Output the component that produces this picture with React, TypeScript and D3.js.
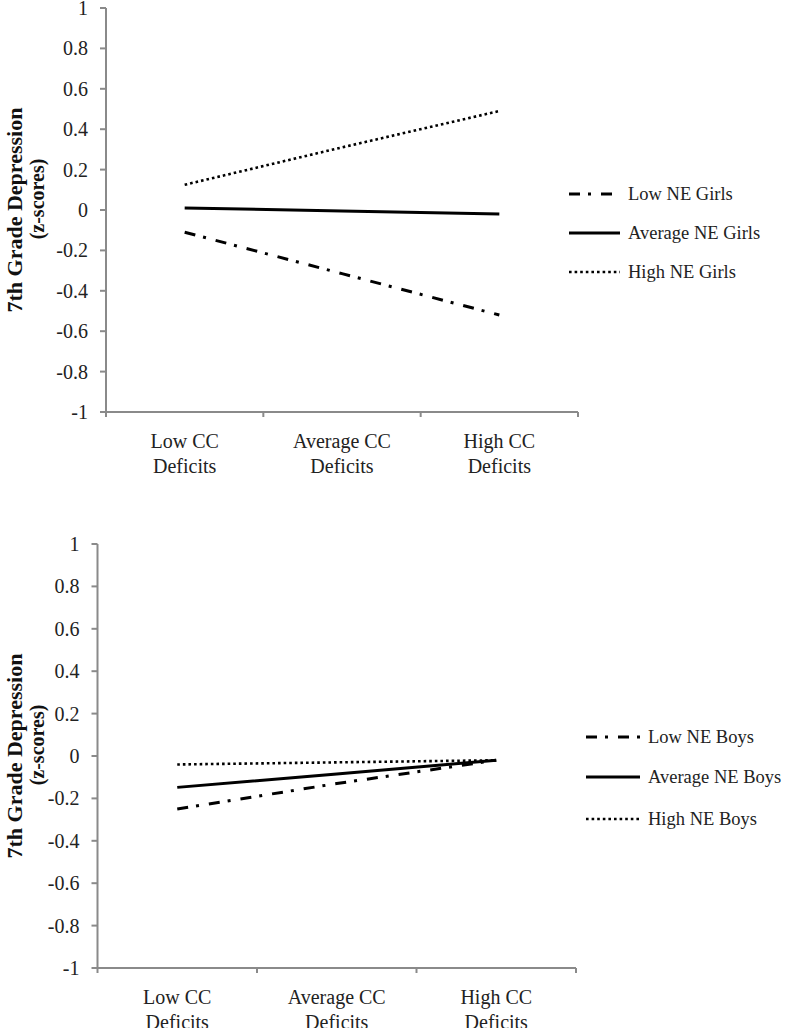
import React from "react";
import * as d3 from "d3";

const categories = ["Low CC|Deficits", "Average CC|Deficits", "High CC|Deficits"];
const yTicks = [1, 0.8, 0.6, 0.4, 0.2, 0, -0.2, -0.4, -0.6, -0.8, -1];

const girlsNames = ["Low NE Girls", "Average NE Girls", "High NE Girls"];
const girlsLow = [-0.11, -0.315, -0.52];
const girlsAvg = [0.01, -0.005, -0.02];
const girlsHigh = [0.125, 0.31, 0.49];

const boysNames = ["Low NE Boys", "Average NE Boys", "High NE Boys"];
const boysLow = [-0.25, -0.13, -0.02];
const boysAvg = [-0.148, -0.085, -0.02];
const boysHigh = [-0.04, -0.03, -0.02];

const FONT = "'Liberation Serif', 'Times New Roman', serif";
const AXIS = "#8a8a8a";

const styles = [
  { dash: "11 8 3 10", width: 3 },
  { dash: null, width: 3 },
  { dash: "2.6 3", width: 2.6 },
];

type PanelProps = {
  names: string[];
  series: number[][];
  x0: number; x1: number; y0: number; y1: number;
  legendX: number; legendYs: number[]; legendLen: number;
  titleX1: number; titleX2: number; titleDy2: number;
};

function Panel(p: PanelProps) {
  const y = d3.scaleLinear().domain([-1, 1]).range([p.y1, p.y0]);
  const x = d3.scalePoint<string>().domain(categories).range([p.x0, p.x1]).padding(0.5);
  const bandW = (p.x1 - p.x0) / categories.length;
  const line = d3.line<number>()
    .x((_, i) => x(categories[i]) as number)
    .y((d) => y(d));
  const mid = (p.y0 + p.y1) / 2;
  return (
    <g fontFamily={FONT}>
      {/* y axis */}
      <line x1={p.x0} x2={p.x0} y1={p.y0} y2={p.y1} stroke={AXIS} strokeWidth={2} />
      {yTicks.map((t) => (
        <g key={t}>
          <line x1={p.x0 - 6} x2={p.x0} y1={y(t)} y2={y(t)} stroke={AXIS} strokeWidth={2} />
          <text x={p.x0 - 18} y={y(t)} textAnchor="end" dominantBaseline="central" fontSize={20} fill="#222">
            {String(t)}
          </text>
        </g>
      ))}
      {/* x axis */}
      <line x1={p.x0} x2={p.x1} y1={p.y1} y2={p.y1} stroke={AXIS} strokeWidth={2} />
      {d3.range(categories.length + 1).map((i) => (
        <line key={i} x1={p.x0 + i * bandW} x2={p.x0 + i * bandW} y1={p.y1} y2={p.y1 + 5} stroke={AXIS} strokeWidth={2} />
      ))}
      {categories.map((c) => {
        const [a, b] = c.split("|");
        const cx = x(c) as number;
        return (
          <text key={c} x={cx} textAnchor="middle" fontSize={20} fill="#222">
            <tspan x={cx} y={p.y1 + 36}>{a}</tspan>
            <tspan x={cx} y={p.y1 + 61}>{b}</tspan>
          </text>
        );
      })}
      {/* title */}
      <text transform={`translate(${p.titleX1},${mid}) rotate(-90)`} textAnchor="middle" dominantBaseline="central"
        fontSize={22} fontWeight="bold" fill="#111">7th Grade Depression</text>
      <text transform={`translate(${p.titleX2},${mid + p.titleDy2}) rotate(-90)`} textAnchor="middle" dominantBaseline="central"
        fontSize={20} fontWeight="bold" fill="#111">(z-scores)</text>
      {/* lines */}
      {p.series.map((s, i) => (
        <path key={i} d={line(s) || ""} fill="none" stroke="#000" strokeWidth={styles[i].width}
          strokeDasharray={styles[i].dash || undefined} />
      ))}
      {/* legend */}
      {p.names.map((n, i) => (
        <g key={n}>
          <line x1={p.legendX} x2={p.legendX + p.legendLen} y1={p.legendYs[i]} y2={p.legendYs[i]}
            stroke="#000" strokeWidth={styles[i].width} strokeDasharray={styles[i].dash || undefined} />
          <text x={p.legendX + p.legendLen + 8} y={p.legendYs[i]} dominantBaseline="central" fontSize={18.5} fill="#222">{n}</text>
        </g>
      ))}
    </g>
  );
}

export default function App() {
  return (
    <svg width={800} height={1028} style={{ position: "absolute", left: 0, top: 0, background: "#fff" }}>
      <rect width={800} height={1028} fill="#fff" />
      <Panel names={girlsNames} series={[girlsLow, girlsAvg, girlsHigh]}
        x0={106} x1={578} y0={8} y1={412}
        legendX={569} legendYs={[194, 233, 272]} legendLen={51}
        titleX1={14} titleX2={37} titleDy2={-11} />
      <Panel names={boysNames} series={[boysLow, boysAvg, boysHigh]}
        x0={97.5} x1={576} y0={544} y1={968}
        legendX={586} legendYs={[737, 777, 819]} legendLen={54}
        titleX1={14} titleX2={37} titleDy2={-11} />
    </svg>
  );
}
